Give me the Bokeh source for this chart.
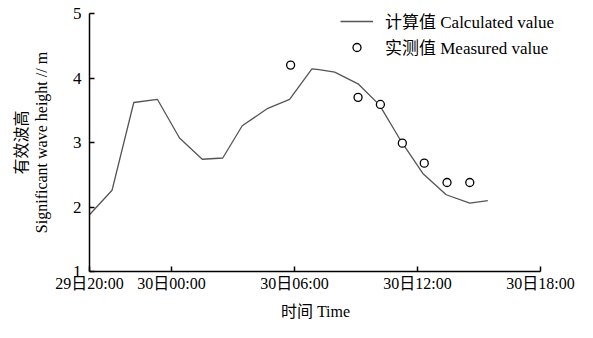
from bokeh.plotting import figure
from bokeh.models import Range1d, FixedTicker, Legend, LegendItem
from bokeh.embed import file_html
from bokeh.resources import INLINE

# hours after 29日 20:00
calc_hours = [0, 1.1, 2.16, 3.31, 4.39, 5.5, 6.5, 7.45, 8.7, 9.76, 10.85, 11.2,
              11.96, 13.1, 14.15, 15.2, 16.26, 17.4, 18.55, 19.43]
calc_height = [1.88, 2.26, 3.62, 3.67, 3.07, 2.74, 2.76, 3.26, 3.53, 3.67, 4.14, 4.13,
               4.09, 3.91, 3.58, 3.02, 2.52, 2.19, 2.06, 2.10]

meas_hours = [9.81, 13.1, 14.19, 15.26, 16.33, 17.44, 18.55]
meas_height = [4.20, 3.70, 3.59, 2.99, 2.68, 2.38, 2.38]

x_ticks = [0, 4, 10, 16, 22]
x_tick_labels = ["29日20:00", "30日00:00", "30日06:00", "30日12:00", "30日18:00"]
y_ticks = [1, 2, 3, 4, 5]

FONT = "'Liberation Serif', 'Noto Sans CJK SC'"

# frame spans to the right edge so the legend is not clipped; the x axis itself
# is bounded to 0..22 h
LEFT, AXIS_END, W, H = 89, 540, 577, 322
TOP, BOTTOM = 13, 51
x_end = 22 * (W - LEFT) / (AXIS_END - LEFT)

p = figure(width=W, height=H, output_backend="svg", toolbar_location=None,
           x_range=Range1d(0, x_end), y_range=Range1d(1, 5),
           min_border_left=LEFT, min_border_right=0, min_border_top=TOP,
           min_border_bottom=BOTTOM)
p.outline_line_color = None
p.xgrid.visible = False
p.ygrid.visible = False
p.background_fill_color = "white"

line_r = p.line(calc_hours, calc_height, line_color="#555555", line_width=1.3)
circ_r = p.scatter(meas_hours, meas_height, marker="circle", size=8,
                   fill_color="white", line_color="black", line_width=1.3)

for ax in (p.xaxis[0], p.yaxis[0]):
    ax.axis_line_color = "black"
    ax.axis_line_width = 1.5
    ax.major_tick_line_color = "black"
    ax.major_tick_line_width = 1.5
    ax.major_tick_in = 5
    ax.major_tick_out = 0
    ax.minor_tick_line_color = None
    ax.major_label_text_font = FONT
    ax.major_label_text_font_size = "16px"
    ax.major_label_text_color = "black"
    ax.axis_label_text_font = FONT
    ax.axis_label_text_font_size = "16px"
    ax.axis_label_text_font_style = "normal"
    ax.axis_label_text_color = "black"

p.xaxis.ticker = FixedTicker(ticks=x_ticks)
p.xaxis.bounds = (0, 22)
p.xaxis.major_label_overrides = {t: l for t, l in zip(x_ticks, x_tick_labels)}
p.xaxis.major_label_standoff = 3
# trailing no-break spaces re-centre the title under the bounded axis
p.xaxis.axis_label = "时间 Time" + "\u00a0" * 9
p.xaxis.axis_label_standoff = 8

p.yaxis.ticker = FixedTicker(ticks=y_ticks)
p.yaxis.major_label_text_font_size = "17px"
p.yaxis.major_label_standoff = 8
p.yaxis.axis_label = "有效波高\nSignificant wave height // m"
p.yaxis.axis_label_standoff = 20

frame_h = H - TOP - BOTTOM
legend = Legend(items=[LegendItem(label="计算值 Calculated value", renderers=[line_r]),
                       LegendItem(label="实测值 Measured value", renderers=[circ_r])],
                location=(251, frame_h - 46), padding=0, margin=0, spacing=1,
                glyph_width=33, glyph_height=20, label_standoff=12, label_height=20,
                border_line_color=None, background_fill_alpha=0,
                label_text_font=FONT, label_text_font_size="17px", label_text_color="black")
p.add_layout(legend)

open("out.html", "w").write(file_html(p, INLINE))
